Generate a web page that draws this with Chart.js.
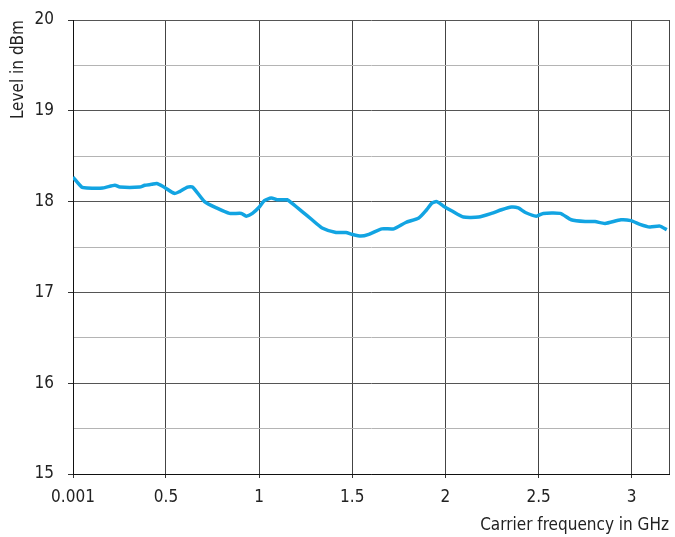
<!DOCTYPE html>
<html>
<head>
<meta charset="utf-8">
<script src="https://cdn.jsdelivr.net/npm/chart.js@4"></script>
<style>
  html, body { margin: 0; padding: 0; background: #fff; }
  #wrap { width: 675px; height: 537px; }
</style>
</head>
<body>
<div id="wrap"><canvas id="levelChart"></canvas></div>
<script>
// carrier frequency in GHz
const freqGHz = [0.001, 0.048, 0.076, 0.161, 0.226, 0.252, 0.359, 0.386, 0.423, 0.450, 0.482,
  0.546, 0.573, 0.616, 0.643, 0.707, 0.771, 0.841, 0.905, 0.931, 0.964, 1.001, 1.028, 1.065,
  1.097, 1.151, 1.177, 1.231, 1.284, 1.338, 1.413, 1.466, 1.498, 1.546, 1.589, 1.659, 1.723,
  1.787, 1.857, 1.899, 1.926, 1.953, 1.990, 2.033, 2.097, 2.178, 2.247, 2.301, 2.354, 2.391,
  2.429, 2.488, 2.525, 2.616, 2.675, 2.750, 2.803, 2.857, 2.942, 2.996, 3.044, 3.097, 3.151, 3.188];
// output level in dBm
const levelDbm = [18.27, 18.16, 18.15, 18.15, 18.18, 18.16, 18.16, 18.18, 18.19, 18.20, 18.17,
  18.09, 18.11, 18.16, 18.16, 18.00, 17.93, 17.87, 17.87, 17.84, 17.87, 17.94, 18.01, 18.04,
  18.02, 18.02, 17.98, 17.89, 17.80, 17.71, 17.66, 17.66, 17.64, 17.62, 17.64, 17.70, 17.70,
  17.77, 17.82, 17.91, 17.98, 18.00, 17.95, 17.90, 17.83, 17.83, 17.87, 17.91, 17.94, 17.93,
  17.88, 17.84, 17.87, 17.87, 17.80, 17.78, 17.78, 17.76, 17.80, 17.79, 17.75, 17.72, 17.73, 17.69];

const xTicks = [0.001, 0.5, 1, 1.5, 2, 2.5, 3];
const xMax = 3.2;
const yTicks = [15, 15.5, 16, 16.5, 17, 17.5, 18, 18.5, 19, 19.5, 20];

const fontFamily = '"Liberation Sans Narrow", "DejaVu Sans Condensed", "Arial Narrow", sans-serif';
const textColor = '#222';

const points = freqGHz.map((f, i) => ({ x: f, y: levelDbm[i] }));

new Chart(document.getElementById('levelChart'), {
  type: 'line',
  data: {
    datasets: [{
      data: points,
      borderColor: '#12a4e2',
      borderWidth: 3.5,
      pointRadius: 0,
      tension: 0.2,
      fill: false
    }]
  },
  options: {
    responsive: true,
    maintainAspectRatio: false,
    animation: false,
    layout: { padding: { top: 20, right: 6, left: 0, bottom: 0 } },
    plugins: { legend: { display: false }, tooltip: { enabled: false } },
    scales: {
      x: {
        type: 'linear',
        min: xTicks[0],
        max: xMax,
        afterBuildTicks: (scale) => {
          scale.ticks = xTicks.concat([xMax]).map(v => ({ value: v }));
        },
        afterFit: (scale) => {
          scale.height = 63;
          // keep the plot edges fixed, labels may overflow
          scale.paddingLeft = 0;
          scale.paddingRight = 0;
        },
        border: { color: '#111', width: 1 },
        grid: {
          color: '#444',
          lineWidth: 1,
          tickLength: 4,
          tickColor: (ctx) => (ctx.tick && ctx.tick.value === xMax ? 'rgba(0,0,0,0)' : '#333')
        },
        ticks: {
          autoSkip: false,
          maxRotation: 0,
          padding: 9,
          color: textColor,
          font: { family: fontFamily, size: 17 },
          callback: (v) => (xTicks.includes(v) ? String(v) : '')
        },
        title: {
          display: true,
          text: 'Carrier frequency in GHz',
          align: 'end',
          color: textColor,
          font: { family: fontFamily, size: 17 },
          padding: { top: 2, bottom: 1 }
        }
      },
      y: {
        min: 15,
        max: 20,
        afterBuildTicks: (scale) => {
          scale.ticks = yTicks.map(v => ({ value: v }));
        },
        afterFit: (scale) => {
          scale.width = 73;
          scale.paddingTop = 0;
          scale.paddingBottom = 0;
        },
        border: { color: '#111', width: 1 },
        grid: {
          lineWidth: 1,
          tickLength: 5,
          color: (ctx) => (ctx.tick && Number.isInteger(ctx.tick.value) ? '#555' : '#b4b4b4'),
          tickColor: (ctx) => (ctx.tick && Number.isInteger(ctx.tick.value) ? '#333' : 'rgba(0,0,0,0)')
        },
        ticks: {
          autoSkip: false,
          padding: 14,
          color: textColor,
          font: { family: fontFamily, size: 17 },
          callback: (v) => (Number.isInteger(v) ? String(v) : '')
        },
        title: {
          display: true,
          text: 'Level in dBm',
          align: 'end',
          color: textColor,
          font: { family: fontFamily, size: 17 },
          padding: { top: 8, bottom: 0 }
        }
      }
    }
  }
});
</script>
</body>
</html>
